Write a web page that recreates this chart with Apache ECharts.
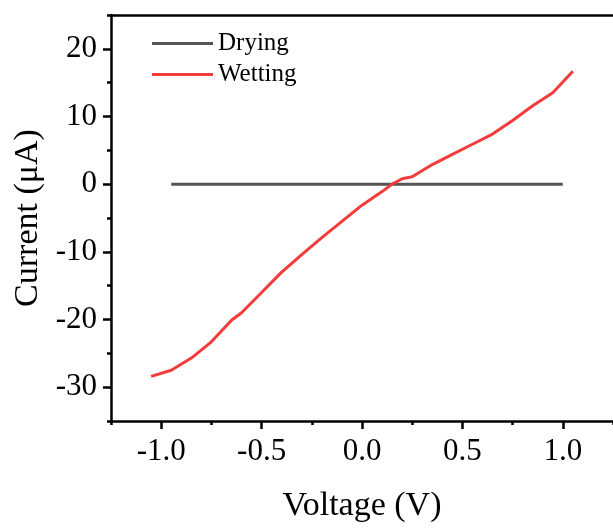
<!DOCTYPE html>
<html>
<head>
<meta charset="utf-8">
<script src="https://cdn.jsdelivr.net/npm/echarts@6/dist/echarts.min.js"></script>
<style>
  html, body { margin: 0; padding: 0; background: #fff; }
  #main { width: 613px; height: 528px; }
</style>
</head>
<body>
<div id="main"></div>
<script>
  // drying curve (flat)
  var dryX = [-0.95, -0.5, 0, 0.5, 1.0];
  var dryY = [0, 0, 0, 0, 0];

  // wetting curve
  var wetX = [-1.05, -0.95, -0.85, -0.75, -0.65, -0.6, -0.5, -0.4, -0.3, -0.2, -0.1, 0, 0.1, 0.15, 0.2, 0.25, 0.35, 0.45, 0.55, 0.65, 0.75, 0.85, 0.95, 1.05];
  var wetY = [-28.4, -27.5, -25.7, -23.3, -20.1, -19.0, -16.0, -13.0, -10.4, -7.9, -5.5, -3.1, -1.1, 0, 0.8, 1.1, 2.9, 4.4, 5.9, 7.4, 9.4, 11.6, 13.5, 16.7];

  // tick positions
  var xMajor = [-1.0, -0.5, 0, 0.5, 1.0];
  var xMinor = [-1.25, -0.75, -0.25, 0.25, 0.75, 1.25];
  var yMajor = [-30, -20, -10, 0, 10, 20];
  var yMinor = [-35, -25, -15, -5, 5, 15, 25];

  function pairs(xs, ys) {
    var out = [];
    for (var i = 0; i < xs.length; i++) out.push([xs[i], ys[i]]);
    return out;
  }

  var font = 'Liberation Serif';

  // an axis that only draws ticks at the given values
  function tickAxis(pos, min, max, values, len) {
    return {
      type: 'value', position: pos, min: min, max: max,
      axisLine: { show: false, onZero: false },
      axisTick: { show: true, length: len, lineStyle: { color: '#000', width: 2.5 }, customValues: values },
      axisLabel: { show: false }, splitLine: { show: false }
    };
  }

  var chart = echarts.init(document.getElementById('main'));
  chart.setOption({
    animation: false,
    grid: { left: 111, top: 15, width: 508, height: 407 },
    legend: {
      left: 147,
      top: 26,
      orient: 'vertical',
      icon: 'rect',
      itemWidth: 61,
      itemHeight: 3,
      itemGap: 6,
      textStyle: { fontFamily: font, fontSize: 25, lineHeight: 25, color: '#000' },
      data: ['Drying', 'Wetting']
    },
    xAxis: [{
      type: 'value',
      min: -1.25, max: 1.25,
      name: 'Voltage (V)',
      nameLocation: 'middle',
      nameGap: 68,
      nameTextStyle: { fontFamily: font, fontSize: 34, color: '#000' },
      axisLine: { onZero: false, lineStyle: { color: '#000', width: 2.5 } },
      axisTick: { show: false },
      splitLine: { show: false },
      axisLabel: {
        fontFamily: font, fontSize: 31, color: '#000', margin: 15,
        customValues: xMajor,
        formatter: function (v) { return v.toFixed(1); }
      }
    },
    tickAxis('bottom', -1.25, 1.25, xMinor, 4),
    tickAxis('bottom', -1.25, 1.25, xMajor, 8),
    {
      // top frame line
      type: 'value', position: 'top',
      min: -1.25, max: 1.25,
      axisLine: { onZero: false, lineStyle: { color: '#000', width: 2.5 } },
      axisTick: { show: false }, axisLabel: { show: false }, splitLine: { show: false }
    }],
    yAxis: [{
      type: 'value',
      min: -35, max: 25,
      name: 'Current (μA)',
      nameLocation: 'middle',
      nameGap: 66,
      nameTextStyle: { fontFamily: font, fontSize: 34, color: '#000' },
      axisLine: { onZero: false, lineStyle: { color: '#000', width: 2.5 } },
      axisTick: { show: false },
      splitLine: { show: false },
      axisLabel: {
        fontFamily: font, fontSize: 31, color: '#000', margin: 14,
        customValues: yMajor
      }
    },
    tickAxis('left', -35, 25, yMinor, 4),
    tickAxis('left', -35, 25, yMajor, 8)
    ],
    series: [{
      name: 'Drying',
      type: 'line',
      symbol: 'none',
      color: '#555555',
      lineStyle: { width: 3, color: '#555555' },
      data: pairs(dryX, dryY)
    }, {
      name: 'Wetting',
      type: 'line',
      symbol: 'none',
      color: '#f23c3c',
      lineStyle: { width: 3, color: '#f23c3c' },
      data: pairs(wetX, wetY)
    }]
  });
</script>
</body>
</html>
